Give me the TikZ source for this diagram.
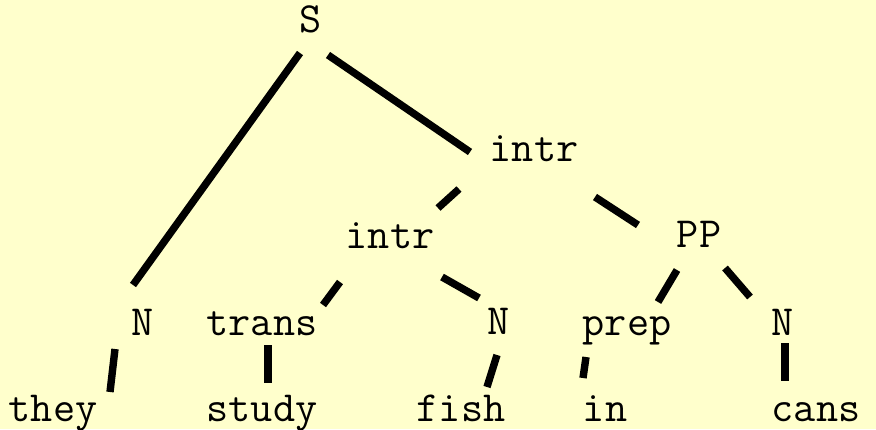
\documentclass[tikz,border=0pt]{standalone}
\definecolor{paper}{HTML}{FFFFCC}
\begin{document}
\begin{tikzpicture}[x=0.5pt,y=-0.5pt,
  lbl/.style={anchor=base,inner sep=0pt,font=\ttfamily\fontsize{21.5}{21.5}\selectfont},
  edge/.style={line width=3.7pt,line cap=butt}]
% canvas
\fill[paper] (0,0) rectangle (876,429);
\useasboundingbox (0,0) rectangle (876,429);

% tree nodes
\node[lbl] (S)     at (311,32)  {S};
\node[lbl] (intrA) at (534,161) {intr};
\node[lbl] (intrB) at (390,248) {intr};
\node[lbl] (PP)    at (699,247) {PP};
\node[lbl] (N1)    at (143,335) {N};
\node[lbl] (trans) at (262,335) {trans};
\node[lbl] (N2)    at (499,334) {N};
\node[lbl] (prep)  at (627,335) {prep};
\node[lbl] (N3)    at (783,335) {N};
\node[lbl] (they)  at (53,421)  {they};
\node[lbl] (study) at (262,421) {study};
\node[lbl] (fish)  at (461,421) {fish};
\node[lbl] (in)    at (605,421) {in};
\node[lbl] (cans)  at (816,421) {cans};

% branches
\draw[edge] ([shift={(-11,21)}]S.base)     -- ([shift={(-10,-50)}]N1.base);
\draw[edge] ([shift={(17,23)}]S.base)      -- ([shift={(-64,-9)}]intrA.base);
\draw[edge] ([shift={(-75,28)}]intrA.base) -- ([shift={(48,-40)}]intrB.base);
\draw[edge] ([shift={(61,36)}]intrA.base)  -- ([shift={(-61,-22)}]PP.base);
\draw[edge] ([shift={(-50,34)}]intrB.base) -- ([shift={(61,-30)}]trans.base);
\draw[edge] ([shift={(52,29)}]intrB.base)  -- ([shift={(-20,-36)}]N2.base);
\draw[edge] ([shift={(-22,23)}]PP.base)    -- ([shift={(31,-33)}]prep.base);
\draw[edge] ([shift={(26,21)}]PP.base)     -- ([shift={(-33,-38)}]N3.base);
\draw[edge] ([shift={(-28,14)}]N1.base)    -- ([shift={(57,-29)}]they.base);
\draw[edge] ([shift={(6,10)}]trans.base)   -- ([shift={(6,-38)}]study.base);
\draw[edge] ([shift={(-2,21)}]N2.base)     -- ([shift={(26,-34)}]fish.base);
\draw[edge] ([shift={(-41,22)}]prep.base)  -- ([shift={(-22,-43)}]in.base);
\draw[edge] ([shift={(2,8)}]N3.base)       -- ([shift={(-31,-40)}]cans.base);
\end{tikzpicture}
\end{document}
